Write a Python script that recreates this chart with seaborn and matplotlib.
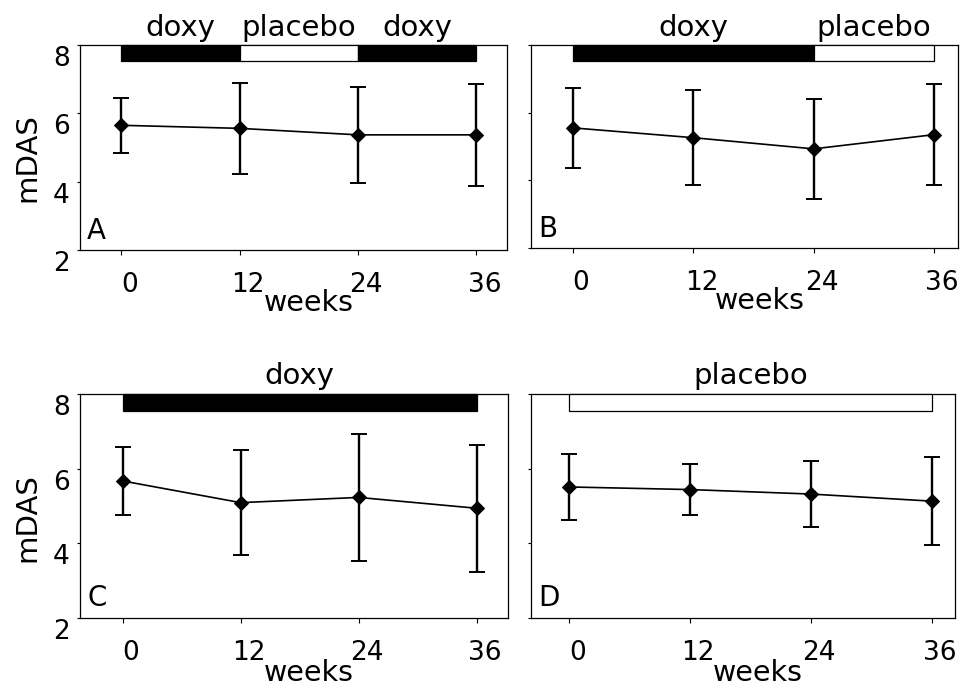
import matplotlib
matplotlib.use("Agg")
import matplotlib.pyplot as plt
import matplotlib.transforms as mtransforms
import seaborn as sns

sns.set_style("ticks")
plt.rcParams['font.family'] = ['DejaVu Sans']
plt.rcParams['text.color'] = 'black'
plt.rcParams['axes.labelcolor'] = 'black'

# data (mean +/- sd of mDAS)
weeks = [0, 12, 24, 36]

mean_A = [5.65, 5.56, 5.37, 5.37]
sd_A = [0.80, 1.33, 1.40, 1.50]
mean_B = [5.55, 5.26, 4.93, 5.35]
sd_B = [1.18, 1.40, 1.47, 1.50]
mean_C = [5.67, 5.09, 5.23, 4.94]
sd_C = [0.90, 1.40, 1.70, 1.70]
mean_D = [5.51, 5.44, 5.32, 5.13]
sd_D = [0.89, 0.69, 0.88, 1.17]

# treatment periods: start week, end week, drug
periods_A = [(0, 12, "doxy"), (12, 24, "placebo"), (24, 36, "doxy")]
periods_B = [(0, 24, "doxy"), (24, 36, "placebo")]
periods_C = [(0, 36, "doxy")]
periods_D = [(0, 36, "placebo")]

panel_names = ["A", "B", "C", "D"]
y_ticks = [2, 4, 6, 8]

panels = [
    (mean_A, sd_A, periods_A),
    (mean_B, sd_B, periods_B),
    (mean_C, sd_C, periods_C),
    (mean_D, sd_D, periods_D),
]

# axes boxes in pixels (left, top, right, bottom) and x limits
W, H = 967, 689
boxes = [(80, 45, 507, 250), (531, 45, 958, 248), (80, 394, 508, 618), (531, 394, 955, 618)]
xlims = [(-4.2, 39.1), (-4.2, 38.4), (-4.35, 39.2), (-3.8, 38.3)]

fig = plt.figure(figsize=(W / 100, H / 100), dpi=100)

for i, (means, sds, periods) in enumerate(panels):
    l, t, r, b = boxes[i]
    ax = fig.add_axes([l / W, (H - b) / H, (r - l) / W, (b - t) / H])

    # treatment bar along the top
    for start, end, drug in periods:
        fill = "black" if drug == "doxy" else "white"
        ax.barh(7.77, end - start, left=start, height=0.46, color=fill,
                edgecolor="black", linewidth=0.9, zorder=3, clip_on=False)
        ax.text((start + end) / 2, 8.27, drug, ha="center", va="baseline",
                fontsize=21, clip_on=False)

    sns.lineplot(x=weeks, y=means, ax=ax, color="black", linewidth=1.2,
                 marker="D", markersize=7, markeredgecolor="black", zorder=4)
    ax.errorbar(weeks, means, yerr=sds, fmt="none", ecolor="black",
                elinewidth=1.7, capsize=5.5, capthick=1.4, zorder=4)

    ax.set_xlim(*xlims[i])
    ax.set_ylim(2, 8)
    ax.set_xticks(weeks)
    ax.set_yticks(y_ticks)
    ax.tick_params(axis="x", direction="out", length=3.6, width=0.8, pad=12,
                   labelsize=19, colors="black")
    ax.tick_params(axis="y", direction="out", length=2.5, width=0.8, pad=5,
                   labelsize=19, colors="black")
    for sp in ax.spines.values():
        sp.set_linewidth(0.9)
        sp.set_color("black")

    ax.set_xlabel("weeks", fontsize=20.5)
    ax.xaxis.set_label_coords(0.535, -0.19 if i < 2 else -0.185)
    if i % 2 == 0:
        ax.set_ylabel("mDAS", fontsize=21)
        ax.yaxis.set_label_coords(-0.09, 0.45)
        shift_y = mtransforms.ScaledTranslation(0, -11 / 100, fig.dpi_scale_trans)
        for lab in ax.get_yticklabels():
            lab.set_transform(lab.get_transform() + shift_y)
    else:
        ax.set_yticklabels([])
        ax.set_ylabel("")
    shift_x = mtransforms.ScaledTranslation(8 / 100, 0, fig.dpi_scale_trans)
    for lab in ax.get_xticklabels():
        lab.set_transform(lab.get_transform() + shift_x)

    ax.text(0.017, 0.025, panel_names[i], transform=ax.transAxes,
            ha="left", va="bottom", fontsize=20)

fig.savefig("out.png", dpi=100, facecolor="white")
